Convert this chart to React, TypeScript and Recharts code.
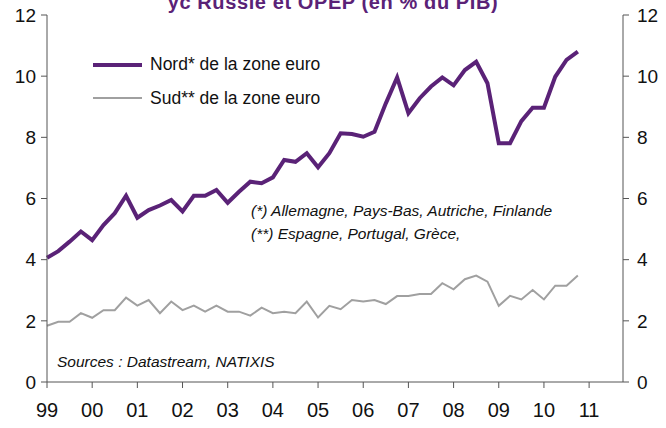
import { LineChart, Line, XAxis, YAxis } from 'recharts'

// quarterly, 1999Q1 .. 2010Q4
const nordValues = [
  4.06, 4.28, 4.59, 4.92, 4.64, 5.13, 5.52, 6.09, 5.37, 5.62, 5.77, 5.95,
  5.58, 6.09, 6.09, 6.28, 5.86, 6.22, 6.55, 6.5, 6.69, 7.26, 7.2, 7.48,
  7.02, 7.48, 8.13, 8.11, 8.02, 8.18, 9.11, 9.96, 8.79, 9.28, 9.66, 9.96,
  9.7, 10.2, 10.47, 9.77, 7.81, 7.81, 8.53, 8.97, 8.97, 9.98, 10.53, 10.8,
]
const sudValues = [
  1.84, 1.97, 1.97, 2.25, 2.1, 2.35, 2.35, 2.76, 2.5, 2.68, 2.25, 2.63,
  2.35, 2.5, 2.3, 2.5, 2.3, 2.3, 2.17, 2.43, 2.25, 2.3, 2.25, 2.63,
  2.11, 2.49, 2.38, 2.68, 2.63, 2.68, 2.55, 2.81, 2.81, 2.88, 2.88, 3.23,
  3.03, 3.36, 3.48, 3.28, 2.49, 2.82, 2.7, 3.01, 2.7, 3.15, 3.15, 3.48,
]
const yearLabels = ['99', '00', '01', '02', '03', '04', '05', '06', '07', '08', '09', '10', '11']
const yTicks = [0, 2, 4, 6, 8, 10, 12]

const data = nordValues.map((v, i) => ({ q: i, nord: v, sud: sudValues[i] }))
const xTicks = yearLabels.map((_, i) => i * 4)

const FONT = 'Arial, "Liberation Sans", sans-serif'
const PURPLE = '#5a2277'
const GREY = '#a0a0a0'
const AXIS = '#555'

export default function App() {
  return (
    <div
      style={{
        position: 'absolute',
        left: 0,
        top: 0,
        width: 666,
        height: 428,
        overflow: 'hidden',
        background: '#fff',
        fontFamily: FONT,
      }}
    >
      <LineChart
        width={666}
        height={428}
        data={data}
        margin={{ top: 15, right: 0, bottom: 0, left: 7 }}
      >
        <XAxis
          dataKey="q"
          type="number"
          domain={[0, 51]}
          ticks={xTicks}
          tickFormatter={(v: number) => yearLabels[v / 4]}
          height={46}
          stroke={AXIS}
          tickSize={6}
          tickMargin={15}
          tick={{ fontSize: 20, fill: '#111', fontFamily: FONT }}
          interval={0}
        />
        <YAxis
          yAxisId="left"
          domain={[0, 12]}
          ticks={yTicks}
          width={40}
          stroke={AXIS}
          tickSize={6}
          tickMargin={5}
          tick={{ fontSize: 19, fill: '#111', fontFamily: FONT }}
          interval={0}
        />
        <YAxis
          yAxisId="right"
          orientation="right"
          domain={[0, 12]}
          ticks={yTicks}
          width={43}
          stroke={AXIS}
          tickSize={6}
          tickMargin={8}
          tick={{ fontSize: 19, fill: '#111', fontFamily: FONT }}
          interval={0}
        />
        {/* same 0-12 scale on both sides, sud drawn against the right one */}
        <Line
          yAxisId="right"
          dataKey="sud"
          stroke={GREY}
          strokeWidth={2}
          dot={false}
          isAnimationActive={false}
        />
        <Line
          yAxisId="left"
          dataKey="nord"
          stroke={PURPLE}
          strokeWidth={4}
          dot={false}
          isAnimationActive={false}
        />
      </LineChart>

      {/* titre coupé en haut */}
      <div
        style={{
          position: 'absolute',
          left: 0,
          width: 666,
          top: -7,
          textAlign: 'center',
          fontSize: 20,
          letterSpacing: 0.6,
          lineHeight: '19px',
          fontWeight: 700,
          color: PURPLE,
        }}
      >
        yc Russie et OPEP (en % du PIB)
      </div>

      {/* légende */}
      <div style={{ position: 'absolute', left: 93, top: 63, width: 49, height: 4, background: PURPLE }} />
      <div style={{ position: 'absolute', left: 150, top: 55, fontSize: 17.5, lineHeight: '18px', color: '#111' }}>
        Nord* de la zone euro
      </div>
      <div style={{ position: 'absolute', left: 93, top: 97, width: 49, height: 2, background: GREY }} />
      <div style={{ position: 'absolute', left: 150, top: 89, fontSize: 17.5, lineHeight: '18px', color: '#111' }}>
        Sud** de la zone euro
      </div>

      {/* notes */}
      <div style={{ position: 'absolute', left: 251, top: 203, fontSize: 15.5, lineHeight: '16px', fontStyle: 'italic', color: '#111' }}>
        (*) Allemagne, Pays-Bas, Autriche, Finlande
      </div>
      <div style={{ position: 'absolute', left: 251, top: 226, fontSize: 15.5, lineHeight: '16px', fontStyle: 'italic', color: '#111' }}>
        (**) Espagne, Portugal, Grèce,
      </div>
      <div style={{ position: 'absolute', left: 57, top: 354, fontSize: 15.5, lineHeight: '16px', fontStyle: 'italic', color: '#111' }}>
        Sources : Datastream, NATIXIS
      </div>
    </div>
  )
}
